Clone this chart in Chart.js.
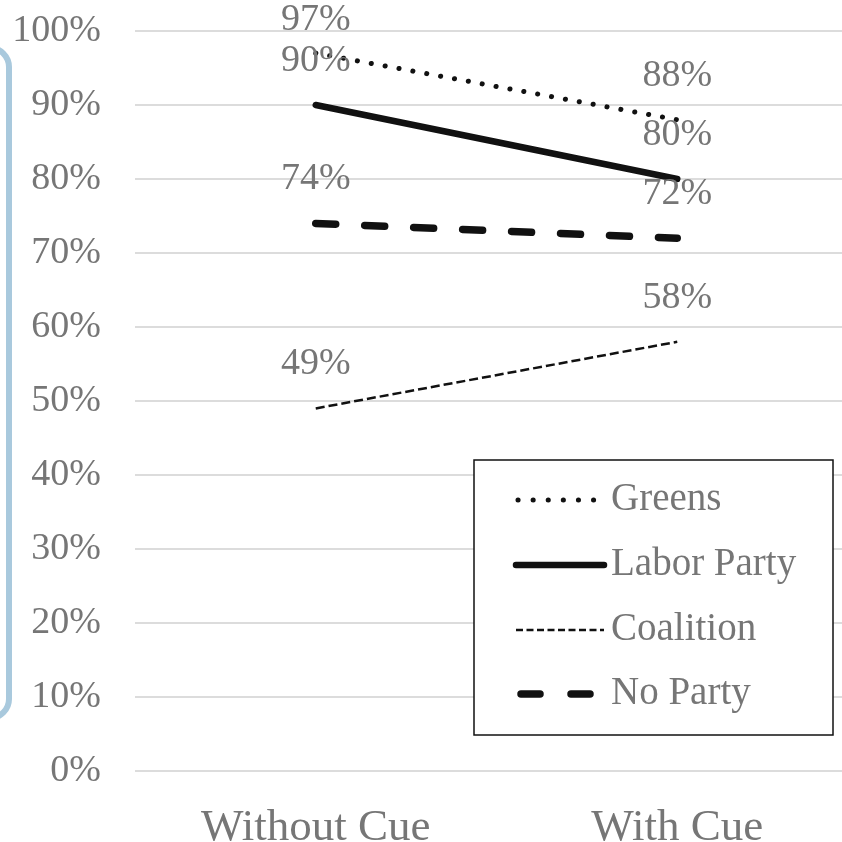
<!DOCTYPE html>
<html>
<head>
<meta charset="utf-8">
<script src="https://cdn.jsdelivr.net/npm/chart.js@4.4.0/dist/chart.umd.min.js"></script>
<style>
  html, body { margin:0; padding:0; background:#fff; overflow:hidden; width:842px; height:842px; }
  #wrap { position:relative; width:842px; height:842px; overflow:hidden; }
  #frame { position:absolute; left:-220px; top:45px; width:220px; height:664px; border:6px solid #a9c9dd; border-radius:22px; }
  canvas { position:absolute; left:0; top:0; }
</style>
</head>
<body>
<div id="wrap">
  <div id="frame"></div>
  <canvas id="c" width="860" height="842"></canvas>
</div>
<script>
const categories = ["Without Cue", "With Cue"];
const seriesNames = ["Greens", "Labor Party", "Coalition", "No Party"];
const greens = [97, 88];
const labor = [90, 80];
const coalition = [49, 58];
const noParty = [74, 72];
const yTicks = [0, 10, 20, 30, 40, 50, 60, 70, 80, 90, 100];

const FONT = "'Liberation Serif', 'DejaVu Serif', serif";
const TEXT = "#767676";

const styles = [
  { borderWidth: 5, borderDash: [0.1, 14], borderCapStyle: 'round' },
  { borderWidth: 6.5, borderDash: [], borderCapStyle: 'round' },
  { borderWidth: 2.5, borderDash: [9, 4], borderCapStyle: 'butt' },
  { borderWidth: 7.5, borderDash: [20, 29], borderCapStyle: 'round' }
];
const values = [greens, labor, coalition, noParty];

const datasets = seriesNames.map((n, i) => Object.assign({
  label: n,
  data: values[i],
  borderColor: '#111',
  backgroundColor: '#111',
  pointRadius: 0,
  tension: 0,
  fill: false
}, styles[i]));

const labelPlugin = {
  id: 'dataLabels',
  afterDatasetsDraw(chart) {
    const ctx = chart.ctx;
    ctx.save();
    ctx.font = "38px " + FONT;
    ctx.fillStyle = TEXT;
    ctx.textAlign = 'center';
    ctx.textBaseline = 'middle';
    chart.data.datasets.forEach((ds, di) => {
      const meta = chart.getDatasetMeta(di);
      meta.data.forEach((pt, j) => {
        const y = Math.max(pt.y - 44, 20);
        ctx.fillText(ds.data[j] + '%', pt.x, y);
      });
    });
    ctx.restore();
  }
};

const legendPlugin = {
  id: 'boxLegend',
  afterDraw(chart) {
    const ctx = chart.ctx;
    ctx.save();
    const bx = 474, by = 460, bw = 359, bh = 275;
    ctx.fillStyle = '#fff';
    ctx.fillRect(bx, by, bw, bh);
    ctx.strokeStyle = '#111';
    ctx.lineWidth = 1.5;
    ctx.strokeRect(bx, by, bw, bh);
    const rows = [500, 565, 630, 694];
    const legendDash = [[0.1, 15], [], [7, 3.5], [19, 31]];
    const x0 = [518, 516, 516, 521];
    const x1 = [594, 604, 604, 592];
    chart.data.datasets.forEach((ds, i) => {
      const y = rows[i];
      ctx.save();
      ctx.strokeStyle = ds.borderColor;
      ctx.lineWidth = ds.borderWidth;
      ctx.lineCap = ds.borderCapStyle;
      ctx.setLineDash(legendDash[i]);
      ctx.beginPath();
      ctx.moveTo(x0[i], y);
      ctx.lineTo(x1[i], y);
      ctx.stroke();
      ctx.restore();
      ctx.font = "39px " + FONT;
      ctx.fillStyle = TEXT;
      ctx.textAlign = 'left';
      ctx.textBaseline = 'middle';
      ctx.fillText(ds.label, 611, y);
    });
    ctx.restore();
  }
};

new Chart(document.getElementById('c'), {
  type: 'line',
  data: { labels: categories, datasets: datasets },
  options: {
    responsive: false,
    animation: false,
    layout: { padding: { top: 31, right: 2, left: 0, bottom: 0 } },
    plugins: { legend: { display: false }, tooltip: { enabled: false } },
    scales: {
      x: {
        offset: true,
        grid: { display: false, drawTicks: false },
        border: { display: false },
        ticks: { font: { family: FONT, size: 45 }, color: TEXT, padding: 30, maxRotation: 0 },
        afterFit(s) { s.height = 71; s.paddingLeft = 0; s.paddingRight = 0; }
      },
      y: {
        min: 0, max: 100,
        afterBuildTicks(s) { s.ticks = yTicks.map(v => ({ value: v })); },
        ticks: { font: { family: FONT, size: 38 }, color: TEXT, padding: 34, callback: v => v + '%' },
        grid: { color: '#dcdcdc', lineWidth: 2, drawTicks: false },
        border: { display: false },
        afterFit(s) { s.width = 135; s.paddingTop = 0; s.paddingBottom = 0; }
      }
    }
  },
  plugins: [labelPlugin, legendPlugin]
});
</script>
</body>
</html>
